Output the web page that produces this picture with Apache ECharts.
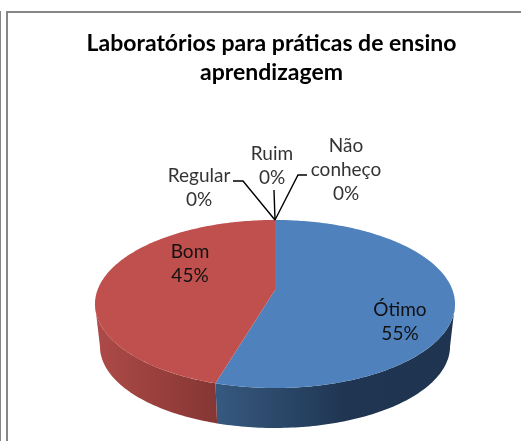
<!DOCTYPE html>
<html lang="pt">
  <head>
    <meta charset="UTF-8" />
    <title>Laboratórios para práticas de ensino aprendizagem</title>
    <style>
      html, body { margin: 0; padding: 0; background: #fff; }
    </style>
  </head>
  <body>
    <div id="main" style="width: 521px; height: 441px"></div>

    <script src="https://cdn.jsdelivr.net/npm/echarts@6/dist/echarts.min.js"></script>
    <script>
      // dados
      const categories = ['Ótimo', 'Bom', 'Regular', 'Ruim', 'Não conheço']
      const values = [6, 5, 0, 0, 0]
      const total = values.reduce((a, b) => a + b, 0)

      const topColors = ['#4F81BD', '#C0504D']
      const sideStops = [
        [[0, '#36597F'], [0.55, '#1F3551'], [1, '#1F3450']],
        [[0, '#AD4A47'], [1, '#853634']]
      ]
      const sideRange = [[217, 455], [97, 217]]

      // pizza em perspectiva: topo e base sao o mesmo circulo projetado
      const tilt = 1 / 6
      const topRing = { cx: 275, y0: 290, R: 177.5, b: 81.7 }
      const baseRing = { cx: 275, y0: 332.7, R: 172.6, b: 79.4 }
      // angulos onde a lateral deixa de ser visivel
      const sideStart = Math.acos(-tilt)
      const sideEnd = Math.PI * 2 - sideStart

      // centro do texto e linha guia de cada rotulo
      const labelPos = [
        { x: 400, y: 322 },
        { x: 190, y: 264 },
        { x: 199, y: 188, guide: [[233, 181], [243, 181]] },
        { x: 272, y: 166, guide: [[274, 190]] },
        { x: 346, y: 170, guide: [[307, 175], [298, 175]] }
      ]

      function project(ring, angle) {
        const u = Math.sin(angle)
        const v = -Math.cos(angle)
        const d = 1 - tilt * v
        return [ring.cx + (ring.R * u) / d, ring.y0 + (ring.b * v) / d]
      }

      function arc(ring, from, to) {
        const pts = []
        const n = Math.max(2, Math.ceil(((to - from) * 180) / Math.PI))
        for (let i = 0; i <= n; i++) {
          pts.push(project(ring, from + ((to - from) * i) / n))
        }
        return pts
      }

      function renderSlice(params) {
        const i = params.dataIndex
        const before = values.slice(0, i).reduce((a, b) => a + b, 0)
        const from = (before / total) * Math.PI * 2
        const to = ((before + values[i]) / total) * Math.PI * 2
        const children = []

        if (values[i] > 0) {
          const range = sideRange[i]
          const a = Math.max(from, sideStart)
          const b = Math.min(to, sideEnd)
          children.push({
            type: 'polygon',
            z2: 1,
            shape: { points: arc(topRing, a, b).concat(arc(baseRing, a, b).reverse()) },
            style: {
              fill: new echarts.graphic.LinearGradient(
                range[0], 0, range[1], 0,
                sideStops[i].map(s => ({ offset: s[0], color: s[1] })),
                true
              )
            }
          })
          children.push({
            type: 'polygon',
            z2: 2,
            shape: { points: [[topRing.cx, topRing.y0]].concat(arc(topRing, from, to)) },
            style: { fill: topColors[i] }
          })
        }

        const pos = labelPos[i]
        if (pos.guide) {
          children.push({
            type: 'polyline',
            z2: 3,
            shape: { points: pos.guide.concat([project(topRing, from)]) },
            style: { fill: 'none', stroke: '#000', lineWidth: 1.4 }
          })
        }
        const percent = Math.round((values[i] / total) * 100) + '%'
        children.push({
          type: 'text',
          z2: 4,
          style: {
            text: categories[i].split(' ').concat(percent).join('\n'),
            x: pos.x,
            y: pos.y,
            textAlign: 'center',
            textVerticalAlign: 'middle',
            font: '19px Lato',
            lineHeight: 24,
            fill: values[i] > 0 ? '#111' : '#333'
          }
        })
        return { type: 'group', children: children }
      }

      const myChart = echarts.init(document.getElementById('main'))

      const borderColor = '#868686'
      myChart.setOption({
        backgroundColor: '#fff',
        animation: false,
        title: {
          text: 'Laboratórios para práticas de ensino\naprendizagem',
          left: 266.5,
          top: 24,
          textAlign: 'center',
          textStyle: {
            fontFamily: 'Lato',
            fontWeight: 'bold',
            fontSize: 23,
            lineHeight: 29,
            color: '#000'
          }
        },
        graphic: [
          { type: 'rect', shape: { x: 6, y: 11, width: 515, height: 2 }, style: { fill: borderColor } },
          { type: 'rect', shape: { x: 6, y: 11, width: 2, height: 430 }, style: { fill: borderColor } },
          { type: 'rect', shape: { x: 0, y: 11, width: 1, height: 430 }, style: { fill: borderColor } }
        ],
        series: [
          {
            type: 'custom',
            coordinateSystem: 'none',
            renderItem: renderSlice,
            data: categories.map((name, i) => ({ name: name, value: values[i] }))
          }
        ]
      })
    </script>
  </body>
</html>
